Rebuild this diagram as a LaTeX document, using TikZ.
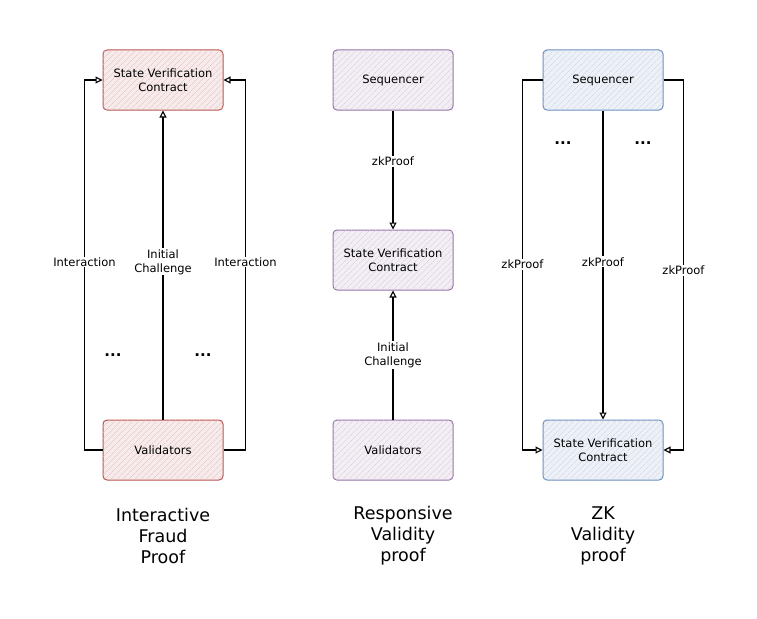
\documentclass[tikz,border=0pt]{standalone}
\usepackage{fontspec}
\setmainfont{DejaVu Sans}
\usetikzlibrary{arrows.meta, positioning, patterns.meta}

\begin{document}
\begin{tikzpicture}[
    x=1pt, y=-1pt,
    box/.style={rectangle, rounded corners=4pt, draw=#1, line width=1pt, fill=#1!12,
        postaction={pattern={Lines[angle=45,distance=4pt,line width=0.35pt]}, pattern color=#1!40},
        minimum width=120pt, minimum height=60pt, align=center, font=\fontsize{11.5}{14}\selectfont},
    arrow/.style={-{Triangle[open, length=7pt, width=7pt]}, line width=1.1pt},
    lbl/.style={fill=white, inner sep=1pt, align=center, font=\fontsize{11.5}{14}\selectfont},
    dots/.style={font=\fontsize{15}{15}\selectfont\bfseries},
    caption/.style={align=center, font=\fontsize{17.5}{21}\selectfont}
]
\definecolor{fraudred}{HTML}{B85450}
\definecolor{respurple}{HTML}{9673A6}
\definecolor{zkblue}{HTML}{6C8EBF}
\useasboundingbox (0,0) rectangle (757,618);

% Interactive fraud proof
\node[box=fraudred] (lsvc) at (163,80) {State Verification\\Contract};
\node[box=fraudred] (lval) at (163,450) {Validators};
\draw[arrow] (lval.north) -- node[lbl, pos=0.51] {Initial\\Challenge} (lsvc.south);
\draw[arrow] (lval.west) -- ++(-18,0) |- node[lbl, pos=0.254] {Interaction} (lsvc.west);
\draw[arrow] (lval.east) -- ++(22,0) |- node[lbl, pos=0.254] {Interaction} (lsvc.east);
\node[dots] (ldots1) at (113,355) {...};
\node[dots] (ldots2) at (203,355) {...};

% Responsive validity proof
\node[box=respurple] (mseq) at (393,80) {Sequencer};
\node[box=respurple] (msvc) at (393,260) {State Verification\\Contract};
\node[box=respurple] (mval) at (393,450) {Validators};
\draw[arrow] (mseq.south) -- node[lbl, pos=0.43] {zkProof} (msvc.north);
\draw[arrow] (mval.north) -- node[lbl, pos=0.5] {Initial\\Challenge} (msvc.south);

% ZK validity proof
\node[box=zkblue] (rseq) at (603,80) {Sequencer};
\node[box=zkblue] (rsvc) at (603,450) {State Verification\\Contract};
\draw[arrow] (rseq.south) -- node[lbl, pos=0.49] {zkProof} (rsvc.north);
\draw[arrow] (rseq.west) -- ++(-20,0) |- node[lbl, pos=0.249] {zkProof} (rsvc.west);
\draw[arrow] (rseq.east) -- ++(20,0) |- node[lbl, pos=0.257] {zkProof} (rsvc.east);
\node[dots] (rdots1) at (563,143) {...};
\node[dots] (rdots2) at (643,143) {...};

% captions
\node[caption] (cap1) at (163,536) {Interactive\\Fraud\\Proof};
\node[caption] (cap2) at (403,536) {Responsive\\Validity\\proof};
\node[caption] (cap3) at (603,536) {ZK\\Validity\\proof};

\end{tikzpicture}
\end{document}
